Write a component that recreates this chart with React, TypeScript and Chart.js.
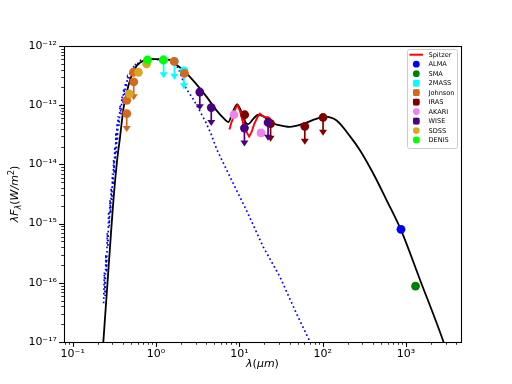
import { useEffect, useRef } from "react";
import { Chart, registerables } from "chart.js";

Chart.register(...registerables);

// ---------- data (wavelength in micron, lambda*F_lambda in W/m^2) ----------
const modelLam = [0.233, 0.26, 0.29, 0.31, 0.34, 0.37, 0.406, 0.445, 0.51, 0.59, 0.7, 0.9, 1.2, 1.5, 1.8, 2.12, 2.8, 4.05, 5.35, 6.5, 7.4, 8.3, 9.4, 10.5, 11.5, 12.8, 14.5, 16.9, 20, 23.3, 30, 40, 60, 80, 105, 147, 212, 280, 403, 584, 867, 1463, 2786, 3300];
const modelFlux = [1e-17, 8.9e-17, 7.9e-16, 2.8e-15, 1.12e-14, 2.9e-14, 8.7e-14, 1.66e-13, 3.2e-13, 4.7e-13, 5.6e-13, 6.0e-13, 6.0e-13, 5.75e-13, 4.7e-13, 3.9e-13, 2.6e-13, 1.38e-13, 8.1e-14, 6.0e-14, 5.2e-14, 7.6e-14, 1.03e-13, 7.9e-14, 5.5e-14, 4.8e-14, 5.75e-14, 6.9e-14, 6.3e-14, 5.2e-14, 4.6e-14, 4.3e-14, 4.9e-14, 5.75e-14, 6.4e-14, 5.5e-14, 3.0e-14, 1.74e-14, 7.1e-15, 2.5e-15, 7.9e-16, 1.15e-16, 1.05e-17, 5e-18];

const photoLam = [0.235, 0.24, 0.245, 0.25, 0.255, 0.26, 0.265, 0.27, 0.275, 0.28, 0.285, 0.29, 0.295, 0.3, 0.305, 0.31, 0.315, 0.32, 0.325, 0.33, 0.335, 0.34, 0.345, 0.35, 0.36, 0.37, 0.38, 0.39, 0.4, 0.41, 0.42, 0.43, 0.44, 0.455, 0.47, 0.49, 0.51, 0.53, 0.55, 0.58, 0.62, 0.66, 0.7, 0.8, 0.9, 1.0, 1.2, 1.4, 1.6, 1.85, 2.03, 2.3, 2.8, 3.3, 4.0, 4.6, 5.35, 7.7, 12.2, 19.4, 30.7, 48.6, 68.9, 80];
const photoFlux = [4.5e-17, 1.5e-16, 6e-17, 3e-16, 1.5e-16, 7e-16, 4e-16, 1.6e-15, 9e-16, 2.5e-15, 1.5e-15, 4e-15, 2.5e-15, 7e-15, 4.5e-15, 1.2e-14, 7e-15, 2.0e-14, 1.2e-14, 3.5e-14, 1.5e-14, 5e-14, 2.5e-14, 6.5e-14, 4.5e-14, 1.0e-13, 7e-14, 1.4e-13, 1.1e-13, 1.9e-13, 1.5e-13, 2.4e-13, 2.0e-13, 3.0e-13, 2.7e-13, 3.8e-13, 3.5e-13, 4.6e-13, 4.3e-13, 5.3e-13, 5.0e-13, 5.8e-13, 5.7e-13, 6.0e-13, 6.0e-13, 5.9e-13, 5.8e-13, 5.6e-13, 5.4e-13, 4.2e-13, 3.0e-13, 1.9e-13, 1.26e-13, 8.3e-14, 5.0e-14, 3.2e-14, 1.8e-14, 6.2e-15, 1.66e-15, 4.0e-16, 1.26e-16, 3.0e-17, 1.07e-17, 6e-18];

const spitzerLam = [7.6, 8.0, 8.5, 9.0, 9.5, 10.2, 11.1, 12.2, 13.1, 14.0, 15.0, 16.5, 17.7, 19.0, 20.5, 22.0, 23.3, 25.0];
const spitzerFlux = [3.9e-14, 5.0e-14, 6.3e-14, 8.9e-14, 1.0e-13, 7.9e-14, 4.9e-14, 3.5e-14, 2.95e-14, 3.5e-14, 4.7e-14, 6.3e-14, 7.2e-14, 6.6e-14, 6.3e-14, 6.3e-14, 6.0e-14, 5.0e-14];

const almaLam = [870];
const almaFlux = [8.0e-16];
const almaUp = [false];

const smaLam = [1300];
const smaFlux = [8.8e-17];
const smaUp = [false];

const twomassLam = [1.235, 1.662, 2.159];
const twomassFlux = [5.8e-13, 5.5e-13, 3.8e-13];
const twomassUp = [true, true, true];

const johnsonLam = [0.445, 0.445, 0.535, 0.54, 1.65, 2.19];
const johnsonFlux = [1.21e-13, 7.2e-14, 3.6e-13, 2.47e-13, 5.5e-13, 3.46e-13];
const johnsonUp = [false, true, false, true, false, false];

const irasLam = [11.6, 23.7, 61, 101];
const irasFlux = [6.9e-14, 4.9e-14, 4.4e-14, 6.2e-14];
const irasUp = [true, true, true, true];

const akariLam = [8.6, 18.2];
const akariFlux = [6.9e-14, 3.4e-14];
const akariUp = [false, false];

const wiseLam = [3.35, 4.6, 11.5, 22.1];
const wiseFlux = [1.67e-13, 9.1e-14, 4.1e-14, 5.1e-14];
const wiseUp = [true, true, true, true];

const sdssLam = [0.478, 0.614, 0.77];
const sdssFlux = [1.55e-13, 3.6e-13, 5.0e-13];
const sdssUp = [false, false, false];

const denisLam = [0.79, 1.22];
const denisFlux = [5.8e-13, 5.8e-13];
const denisUp = [false, false];

const xRange = [0.0786, 4570];
const yRange = [1e-17, 1e-12];

const legendOrder = ["Spitzer", "ALMA", "SMA", "2MASS", "Johnson", "IRAS", "AKARI", "WISE", "SDSS", "DENIS"];

const xTitle = "λ(μm)";
const yTitle = "λFλ(W/m2)";

// ---------- helpers ----------
const SUP: Record<string, string> = { "-": "⁻", "0": "⁰", "1": "¹", "2": "²", "3": "³", "4": "⁴", "5": "⁵", "6": "⁶", "7": "⁷", "8": "⁸", "9": "⁹" };
const decadeLabel = (e: number) => "10" + String(e).split("").map((c) => SUP[c]).join("");

const pts = (xs: number[], ys: number[]) => xs.map((x, i) => ({ x, y: ys[i] }));

const FONT = "'DejaVu Sans', sans-serif";

function logTicks(min: number, max: number) {
  const out: { value: number; major: boolean }[] = [];
  const d0 = Math.floor(Math.log10(min));
  const d1 = Math.ceil(Math.log10(max));
  for (let d = d0; d <= d1; d++) {
    for (let m = 1; m <= 9; m++) {
      const v = parseFloat(`${m}e${d}`);
      if (v >= min * (1 - 1e-9) && v <= max * (1 + 1e-9)) out.push({ value: v, major: m === 1 });
    }
  }
  return out;
}

const isDecade = (v: number) => {
  const l = Math.log10(v);
  return Math.abs(l - Math.round(l)) < 1e-6;
};

// upper-limit arrows, drawn just before each dataset's markers
const arrowPlugin = {
  id: "uplimArrows",
  beforeDatasetDraw(chart: any, args: any) {
    const ds = chart.data.datasets[args.index];
    if (!ds.uplims) return;
    const ctx = chart.ctx;
    const ys = chart.scales.y;
    const a = chart.chartArea;
    ctx.save();
    ctx.beginPath();
    ctx.rect(a.left, a.top, a.right - a.left, a.bottom - a.top);
    ctx.clip();
    ctx.strokeStyle = ds.backgroundColor;
    ctx.fillStyle = ds.backgroundColor;
    ctx.lineWidth = 1.7;
    args.meta.data.forEach((el: any, j: number) => {
      if (!ds.uplims[j]) return;
      const x = el.x;
      const y0 = el.y;
      const y1 = ys.getPixelForValue(ds.data[j].y * 0.5);
      ctx.beginPath();
      ctx.moveTo(x, y0);
      ctx.lineTo(x, y1 - 4);
      ctx.stroke();
      ctx.beginPath();
      ctx.moveTo(x - 4, y1 - 5.5);
      ctx.lineTo(x + 4, y1 - 5.5);
      ctx.lineTo(x, y1 + 0.5);
      ctx.closePath();
      ctx.fill();
    });
    ctx.restore();
  },
};

function drawParts(ctx: CanvasRenderingContext2D, parts: { t: string; font: string; dy: number }[]) {
  let total = 0;
  parts.forEach((p) => {
    ctx.font = p.font;
    total += ctx.measureText(p.t).width;
  });
  let x = -total / 2;
  parts.forEach((p) => {
    ctx.font = p.font;
    ctx.fillText(p.t, x, p.dy);
    x += ctx.measureText(p.t).width;
  });
}

const framePlugin = {
  id: "frameTicksTitlesLegend",
  afterDraw(chart: any) {
    const ctx: CanvasRenderingContext2D = chart.ctx;
    const a = chart.chartArea;
    const xs = chart.scales.x;
    const ys = chart.scales.y;
    ctx.save();
    // ticks
    ctx.strokeStyle = "#000";
    xs.ticks.forEach((t: any) => {
      const px = Math.round(xs.getPixelForValue(t.value)) + 0.5;
      const len = t.major ? 4.9 : 2.8;
      ctx.lineWidth = t.major ? 1.1 : 0.8;
      ctx.beginPath();
      ctx.moveTo(px, a.bottom);
      ctx.lineTo(px, a.bottom + len);
      ctx.stroke();
    });
    ys.ticks.forEach((t: any) => {
      const py = Math.round(ys.getPixelForValue(t.value)) + 0.5;
      const len = t.major ? 4.9 : 2.8;
      ctx.lineWidth = t.major ? 1.1 : 0.8;
      ctx.beginPath();
      ctx.moveTo(a.left, py);
      ctx.lineTo(a.left - len, py);
      ctx.stroke();
    });
    // frame
    ctx.lineWidth = 1.1;
    ctx.strokeRect(Math.round(a.left) + 0.5, Math.round(a.top) + 0.5, Math.round(a.right - a.left), Math.round(a.bottom - a.top));

    // axis titles
    ctx.fillStyle = "#000";
    ctx.textBaseline = "alphabetic";
    ctx.textAlign = "left";
    const it = `italic 11px ${FONT}`;
    const up = `11px ${FONT}`;
    ctx.save();
    ctx.translate((a.left + a.right) / 2, 367);
    drawParts(ctx, [
      { t: xTitle.slice(0, 1), font: it, dy: 0 },
      { t: "(", font: up, dy: 0 },
      { t: xTitle.slice(2, 4), font: it, dy: 0 },
      { t: ")", font: up, dy: 0 },
    ]);
    ctx.restore();
    ctx.save();
    ctx.translate(18, (a.top + a.bottom) / 2);
    ctx.rotate(-Math.PI / 2);
    drawParts(ctx, [
      { t: yTitle.slice(0, 2), font: it, dy: 0 },
      { t: yTitle.slice(2, 3), font: `italic 8px ${FONT}`, dy: 2.5 },
      { t: "(", font: up, dy: 0 },
      { t: yTitle.slice(4, 7), font: it, dy: 0 },
      { t: yTitle.slice(7, 8), font: `8px ${FONT}`, dy: -4.5 },
      { t: ")", font: up, dy: 0 },
    ]);
    ctx.restore();

    // legend
    const bx = 407, by = 49, bw = 50, bh = 99;
    ctx.fillStyle = "rgba(255,255,255,0.8)";
    ctx.strokeStyle = "#cccccc";
    ctx.lineWidth = 1;
    ctx.beginPath();
    (ctx as any).roundRect(bx + 0.5, by + 0.5, bw, bh, 2);
    ctx.fill();
    ctx.stroke();
    ctx.font = `6.6px ${FONT}`;
    ctx.textBaseline = "middle";
    legendOrder.forEach((lab, i) => {
      const ds = chart.data.datasets.find((d: any) => d.label === lab);
      if (!ds) return;
      const cy = by + 5.7 + i * 9.48;
      if (ds.showLine) {
        ctx.strokeStyle = ds.borderColor;
        ctx.lineWidth = 2;
        ctx.beginPath();
        ctx.moveTo(bx + 2.5, cy);
        ctx.lineTo(bx + 16, cy);
        ctx.stroke();
      } else {
        ctx.fillStyle = ds.backgroundColor;
        ctx.beginPath();
        ctx.arc(bx + 9.3, cy, 3.4, 0, Math.PI * 2);
        ctx.fill();
        if (ds.uplims && ds.uplims.some((u: boolean) => u)) {
          ctx.fillRect(bx + 6.2, cy - 3.3, 6.2, 6.6);
        }
      }
      ctx.fillStyle = "#000";
      ctx.fillText(lab, bx + 21.5, cy + 0.5);
    });
    ctx.restore();
  },
};

export default function App() {
  const ref = useRef<HTMLCanvasElement | null>(null);
  useEffect(() => {
    if (!ref.current) return;
    const marker = (label: string, xs: number[], ys: number[], up: boolean[], color: string) => ({
      label,
      data: pts(xs, ys),
      uplims: up,
      backgroundColor: color,
      borderColor: color,
      borderWidth: 0,
      pointRadius: 4.4,
      pointHoverRadius: 4.4,
      showLine: false,
    });
    const line = (label: string, xs: number[], ys: number[], color: string, width: number, dash: number[], smooth: boolean) => ({
      label,
      data: pts(xs, ys),
      showLine: true,
      borderColor: color,
      backgroundColor: color,
      borderWidth: width,
      borderDash: dash,
      borderCapStyle: "butt",
      pointRadius: 0,
      pointHoverRadius: 0,
      cubicInterpolationMode: smooth ? "monotone" : "default",
      tension: 0,
      fill: false,
    });
    const drawList: any[] = [
      line("Photosphere", photoLam, photoFlux, "#0000ff", 1.7, [1.7, 2.75], false),
      line("Model", modelLam, modelFlux, "#000000", 1.8, [], true),
      line("Spitzer", spitzerLam, spitzerFlux, "#ff0000", 1.9, [], false),
      marker("ALMA", almaLam, almaFlux, almaUp, "#0000ff"),
      marker("SMA", smaLam, smaFlux, smaUp, "#008000"),
      marker("2MASS", twomassLam, twomassFlux, twomassUp, "#00ffff"),
      marker("Johnson", johnsonLam, johnsonFlux, johnsonUp, "#d2691e"),
      marker("IRAS", irasLam, irasFlux, irasUp, "#800000"),
      marker("AKARI", akariLam, akariFlux, akariUp, "#ee82ee"),
      marker("WISE", wiseLam, wiseFlux, wiseUp, "#4b0082"),
      marker("SDSS", sdssLam, sdssFlux, sdssUp, "#daa520"),
      marker("DENIS", denisLam, denisFlux, denisUp, "#00ff00"),
    ];
    const N = drawList.length;
    drawList.forEach((d, i) => (d.order = N - i));

    const chart = new Chart(ref.current, {
      type: "scatter",
      data: { datasets: drawList },
      plugins: [arrowPlugin, framePlugin],
      options: {
        animation: false,
        responsive: false,
        events: [],
        layout: { padding: { top: 46, right: 51, left: 0, bottom: 0 } },
        plugins: { legend: { display: false }, tooltip: { enabled: false } },
        scales: {
          x: {
            type: "logarithmic",
            min: xRange[0],
            max: xRange[1],
            afterBuildTicks: (s: any) => {
              s.ticks = logTicks(xRange[0], xRange[1]);
            },
            afterFit: (s: any) => {
              s.height = 42;
            },
            grid: { display: false, drawTicks: false, tickLength: 0 },
            border: { display: false },
            ticks: {
              autoSkip: false,
              maxRotation: 0,
              minRotation: 0,
              padding: 6,
              color: "#000",
              font: { family: FONT, size: 11 },
              callback: (v: any) => (isDecade(Number(v)) ? decadeLabel(Math.round(Math.log10(Number(v)))) : ""),
            },
          },
          y: {
            type: "logarithmic",
            min: yRange[0],
            max: yRange[1],
            afterBuildTicks: (s: any) => {
              s.ticks = logTicks(yRange[0], yRange[1]);
            },
            afterFit: (s: any) => {
              s.width = 64;
            },
            grid: { display: false, drawTicks: false, tickLength: 0 },
            border: { display: false },
            ticks: {
              autoSkip: false,
              padding: 7,
              color: "#000",
              font: { family: FONT, size: 11 },
              callback: (v: any) => (isDecade(Number(v)) ? decadeLabel(Math.round(Math.log10(Number(v)))) : ""),
            },
          },
        },
      } as any,
    });
    return () => chart.destroy();
  }, []);
  return (
    <div style={{ position: "fixed", left: 0, top: 0, width: 512, height: 384, background: "#fff" }}>
      <canvas ref={ref} width={512} height={384} style={{ display: "block", width: 512, height: 384 }} />
    </div>
  );
}
